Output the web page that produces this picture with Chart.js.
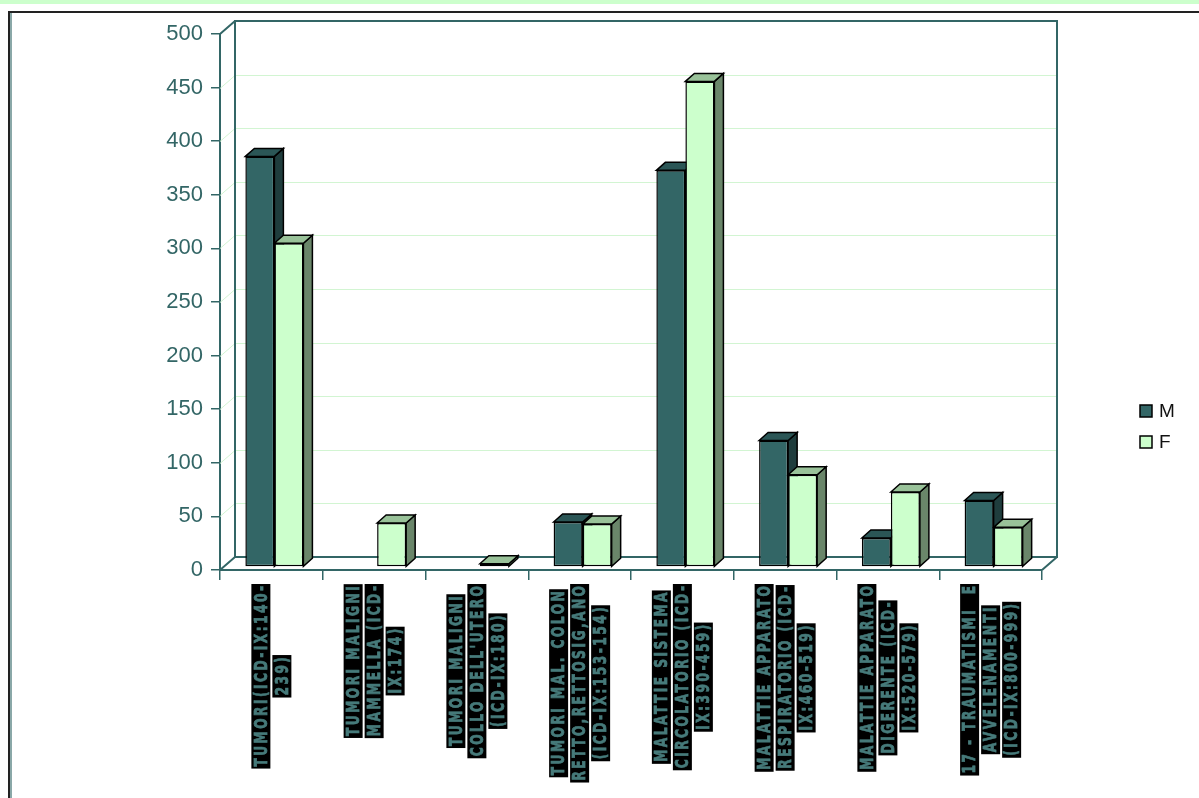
<!DOCTYPE html>
<html>
<head>
<meta charset="utf-8">
<script src="https://cdn.jsdelivr.net/npm/chart.js@4.4.1/dist/chart.umd.min.js"></script>
<style>
  html, body { margin: 0; padding: 0; background: #fff; }
  #wrap { width: 1199px; height: 798px; }
</style>
</head>
<body>
<div id="wrap"><canvas id="myChart"></canvas></div>
<script>
// categories (one array of lines per label, as wrapped in the picture)
const categories = [
  ["TUMORI(ICD-IX:140-", "239)"],
  ["TUMORI MALIGNI", "MAMMELLA (ICD-", "IX:174)"],
  ["TUMORI MALIGNI", "COLLO DELL'UTERO", "(ICD-IX:180)"],
  ["TUMORI MAL. COLON", "RETTO,RETTOSIG,ANO", "(ICD-IX:153-154)"],
  ["MALATTIE SISTEMA", "CIRCOLATORIO (ICD-", "IX:390-459)"],
  ["MALATTIE APPARATO", "RESPIRATORIO (ICD-", "IX:460-519)"],
  ["MALATTIE APPARATO", "DIGERENTE (ICD-", "IX:520-579)"],
  ["17 - TRAUMATISMI  E", "AVVELENAMENTI", "(ICD-IX:800-999)"]
];
const seriesM = [383, 0, 0, 42, 370, 118, 27, 62];
const seriesF = [302, 41, 3, 40, 453, 86, 70, 37];
const yTicks = [0, 50, 100, 150, 200, 250, 300, 350, 400, 450, 500];

const teal = "#336666";
// 3d look
const WALL_DX = 15, WALL_DY = -13;
const BAR_DX = 9, BAR_DY = -8;
const SHIFT_X = 3, SHIFT_Y = -3;
const faces = [
  { top: "#2b5656", side: "#1f3d3d" },
  { top: "#99c299", side: "#6a866a" }
];

const frame3d = {
  id: "frame3d",
  beforeDraw(chart) {
    const c = chart.ctx;
    c.save();
    c.fillStyle = "#ccffcc";
    c.fillRect(0, 0, chart.width, 4);
    c.strokeStyle = "#222";
    c.lineWidth = 2;
    c.beginPath();
    c.moveTo(9, chart.height);
    c.lineTo(9, 12);
    c.lineTo(chart.width, 12);
    c.stroke();
    c.strokeStyle = "#8aa8a8";
    c.beginPath();
    c.moveTo(11, 13);
    c.lineTo(11, chart.height);
    c.stroke();
    c.restore();
  },
  beforeDatasetsDraw(chart) {
    const c = chart.ctx;
    const { left, right, top, bottom } = chart.chartArea;
    const ys = chart.scales.y;
    c.save();
    // grid on the left wall and back wall
    c.strokeStyle = "#d2f5d2";
    c.lineWidth = 1;
    yTicks.forEach(v => {
      if (v === 0 || v === 500) return;
      const yy = Math.round(ys.getPixelForValue(v)) + 0.5;
      c.beginPath();
      c.moveTo(left, yy);
      c.lineTo(left + WALL_DX, yy + WALL_DY);
      c.lineTo(right + WALL_DX, yy + WALL_DY);
      c.stroke();
    });
    c.strokeStyle = teal;
    c.lineWidth = 2;
    c.strokeRect(left + WALL_DX, top + WALL_DY, right - left, bottom - top);
    c.beginPath();
    c.moveTo(left, top); c.lineTo(left + WALL_DX, top + WALL_DY);
    c.moveTo(left, bottom); c.lineTo(left + WALL_DX, bottom + WALL_DY);
    c.moveTo(right, bottom); c.lineTo(right + WALL_DX, bottom + WALL_DY);
    c.stroke();

    // top and side faces of the bars
    c.lineWidth = 1.5;
    c.strokeStyle = "#000";
    c.lineJoin = "miter";
    const metas = chart.data.datasets.map((d, i) => chart.getDatasetMeta(i));
    for (let k = 0; k < categories.length; k++) {
      metas.forEach((meta, di) => {
        const el = meta.data[k];
        const p = el.getProps(["x", "y", "base", "width"], true);
        if (Math.abs(p.base - p.y) < 0.5) return;
        const l = p.x - p.width / 2 + SHIFT_X, r = p.x + p.width / 2 + SHIFT_X;
        const t = p.y + SHIFT_Y, b = p.base + SHIFT_Y;
        c.fillStyle = faces[di].side;
        c.beginPath();
        c.moveTo(r, t); c.lineTo(r + BAR_DX, t + BAR_DY);
        c.lineTo(r + BAR_DX, b + BAR_DY); c.lineTo(r, b);
        c.closePath(); c.fill(); c.stroke();
        c.fillStyle = faces[di].top;
        c.beginPath();
        c.moveTo(l, t); c.lineTo(l + BAR_DX, t + BAR_DY);
        c.lineTo(r + BAR_DX, t + BAR_DY); c.lineTo(r, t);
        c.closePath(); c.fill(); c.stroke();
      });
    }
    c.restore();
    c.save();
    c.translate(SHIFT_X, SHIFT_Y);
  },
  afterDatasetsDraw(chart) {
    chart.ctx.restore();
  },
  afterDraw(chart) {
    const c = chart.ctx;
    const xs = chart.scales.x;
    const S = 0.68, LS = 3.6, PITCH = 21, THICK = 19, PAD = 4;
    c.save();
    c.font = 'bold 18px "DejaVu Sans"';
    c.letterSpacing = LS + "px";
    categories.forEach((lines, i) => {
      const cx = xs.getPixelForTick(i);
      const widths = lines.map(t => c.measureText(t).width * S + PAD - LS * S);
      const maxW = Math.max(...widths);
      const cy = xs.top + 14 + maxW / 2;
      lines.forEach((t, j) => {
        const lx = cx + (j - (lines.length - 1) / 2) * PITCH;
        c.save();
        c.translate(lx, cy);
        c.rotate(-Math.PI / 2);
        c.fillStyle = "#000";
        c.fillRect(-widths[j] / 2, -THICK / 2, widths[j], THICK);
        c.scale(S, 1);
        c.fillStyle = "#467a7a";
        c.strokeStyle = "#467a7a";
        c.lineWidth = 0.8;
        c.textAlign = "center";
        c.textBaseline = "middle";
        c.fillText(t, LS / 2, 1);
        c.strokeText(t, LS / 2, 1);
        c.restore();
      });
    });
    c.restore();

    // legend
    c.save();
    c.font = '19px "Liberation Sans"';
    c.textBaseline = "middle";
    chart.data.datasets.forEach((ds, i) => {
      const yy = 411 + i * 31;
      c.fillStyle = ds.backgroundColor;
      c.fillRect(1140, yy - 6, 12, 12);
      c.strokeStyle = "#000";
      c.lineWidth = 1.5;
      c.strokeRect(1140, yy - 6, 12, 12);
      c.fillStyle = "#111";
      c.fillText(ds.label, 1159, yy + 1);
    });
    c.restore();
  }
};

const ctx = document.getElementById("myChart");
new Chart(ctx, {
  type: "bar",
  data: {
    labels: categories,
    datasets: [
      { label: "M", data: seriesM, backgroundColor: "#336666", borderColor: "#000", borderWidth: 1.5, borderSkipped: false },
      { label: "F", data: seriesF, backgroundColor: "#ccffcc", borderColor: "#000", borderWidth: 1.5, borderSkipped: false }
    ]
  },
  options: {
    responsive: true,
    maintainAspectRatio: false,
    animation: false,
    layout: { padding: { left: 160, right: 157, top: 34, bottom: 0 } },
    datasets: { bar: { categoryPercentage: 0.565, barPercentage: 1 } },
    plugins: { legend: { display: false }, tooltip: { enabled: false } },
    scales: {
      x: {
        afterFit(s) { s.height = 228; },
        ticks: { display: false },
        grid: { drawOnChartArea: false, tickLength: 10, color: teal, lineWidth: 1.5 },
        border: { color: teal, width: 2 }
      },
      y: {
        min: 0,
        max: 500,
        afterFit(s) { s.width = 60; },
        ticks: { stepSize: 50, padding: 8, color: teal, font: { family: "Liberation Sans", size: 22 } },
        grid: { drawOnChartArea: false, tickLength: 9, color: teal, lineWidth: 1.5 },
        border: { color: teal, width: 2 }
      }
    }
  },
  plugins: [frame3d]
});
</script>
</body>
</html>
